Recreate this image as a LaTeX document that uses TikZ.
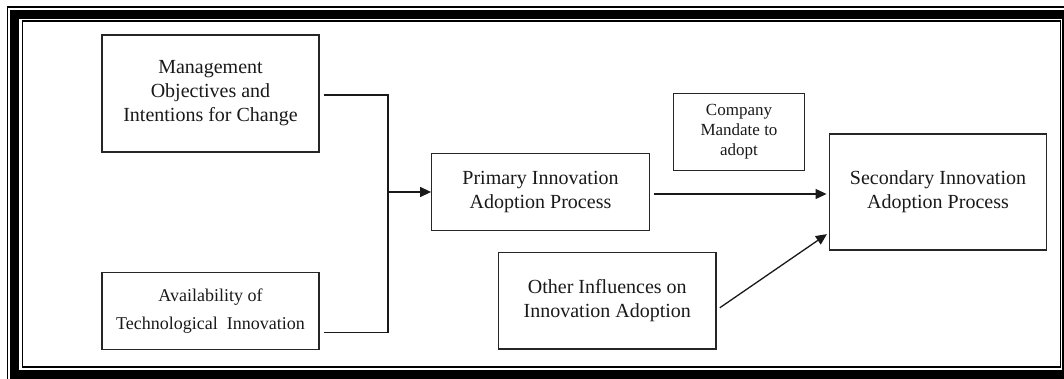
\documentclass[tikz,border=0pt]{standalone}
\usepackage{fontspec}
\setmainfont{Liberation Serif}
\usetikzlibrary{arrows.meta,calc}
\begin{document}
\begin{tikzpicture}[x=1pt,y=-1pt,
  box/.style={draw=black!85, line width=1.2pt, inner sep=0pt, align=center,
    font=\fontsize{20}{24}\selectfont, text=black!90},
  conn/.style={line width=1.3pt, draw=black!90},
  tip/.style={-{Triangle[length=11pt,width=10pt]}},
  frame/.style={draw=black}]
\useasboundingbox (0,0) rectangle (1064,379);
\begin{scope}
  \clip (0,0) rectangle (1064,379);
  \draw[frame, line width=1.4pt] (7.2,7.2) rectangle (1075,383);
  \draw[frame, line width=9pt] (14.5,14.5) rectangle (1066.5,374.5);
  \draw[frame, line width=1.2pt] (22.5,21) rectangle (1060.5,367);
\end{scope}
\node[box, minimum width=217pt, minimum height=117pt] (m) at (210.5,93.5)
  {Management\\Objectives and\\Intentions for Change};
\node[box, minimum width=217pt, minimum height=76.3pt,
  font=\fontsize{18}{28}\selectfont] (a) at (210.5,311)
  {Availability of\\Technological\ \ Innovation};
\node[box, minimum width=217.6pt, minimum height=77.7pt] (p) at (540.5,192)
  {Primary Innovation\\Adoption Process};
\node[box, minimum width=130.3pt, minimum height=77.7pt,
  font=\fontsize{17}{20}\selectfont] (c) at (739,132)
  {Company\\Mandate to\\adopt};
\node[box, minimum width=217.7pt, minimum height=116pt] (s) at (938,192)
  {Secondary Innovation\\Adoption Process};
\node[box, minimum width=217.3pt, minimum height=96.7pt] (o) at (607.3,300.7)
  {Other Influences on\\Innovation Adoption};
\coordinate (j) at (388,192);
\draw[conn, shorten <=4pt] ([yshift=-1.5pt]m.east) -| (j);
\draw[conn, shorten <=4pt] ([yshift=-21.7pt]a.east) -| (j);
\draw[conn, tip] (j) -- (p.west);
\draw[conn, tip, shorten <=4pt, shorten >=2pt] ([yshift=-2pt]p.east) -- ([yshift=-2pt]s.west);
\draw[conn, tip, shorten <=4pt, shorten >=2pt] ([yshift=-9.3pt]o.east) -- ([yshift=-41pt]s.west);
\end{tikzpicture}
\end{document}
